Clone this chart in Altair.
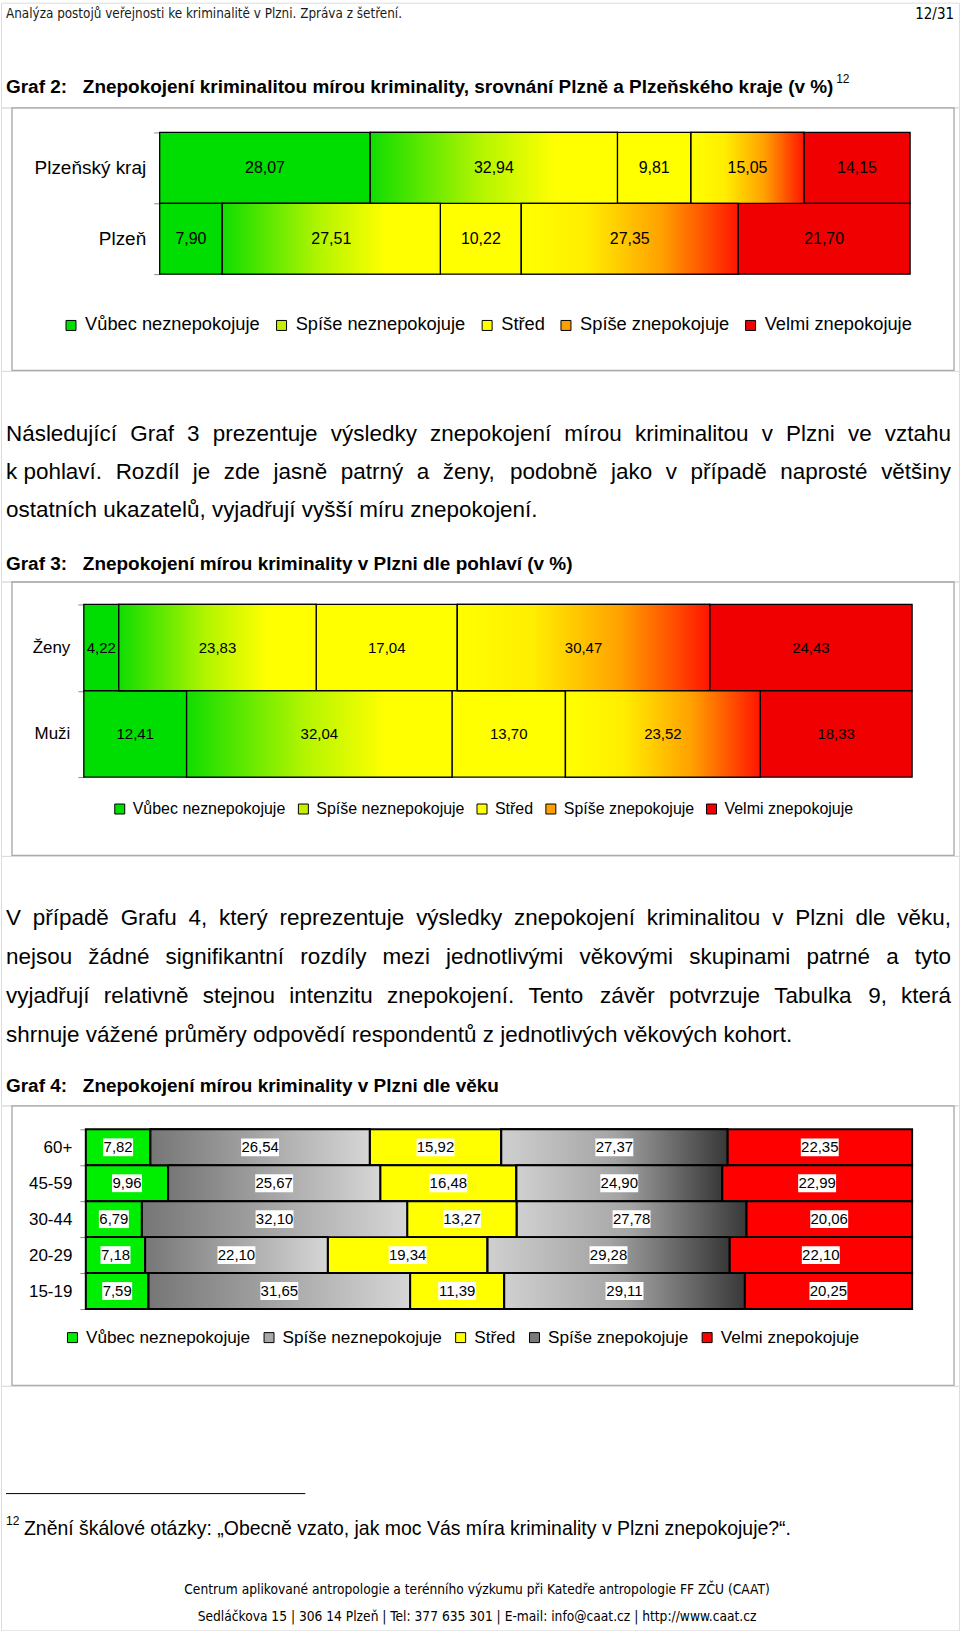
import unicodedata
import altair as alt
import pandas as pd

ARIAL = "Liberation Sans, Arial, sans-serif"
NARROW = "Liberation Sans Narrow, Arial Narrow, DejaVu Sans Condensed, sans-serif"

# ---------------- data ----------------
CATS = ["Vůbec neznepokojuje", "Spíše neznepokojuje", "Střed",
        "Spíše znepokojuje", "Velmi znepokojuje"]

G2_ROWS = ["Plzeňský kraj", "Plzeň"]
G2_KRAJ = [28.07, 32.94, 9.81, 15.05, 14.15]
G2_PLZEN = [7.90, 27.51, 10.22, 27.35, 21.70]

G3_ROWS = ["Ženy", "Muži"]
G3_ZENY = [4.22, 23.83, 17.04, 30.47, 24.43]
G3_MUZI = [12.41, 32.04, 13.70, 23.52, 18.33]

G4_ROWS = ["60+", "45-59", "30-44", "20-29", "15-19"]
G4_60 = [7.82, 26.54, 15.92, 27.37, 22.35]
G4_45 = [9.96, 25.67, 16.48, 24.90, 22.99]
G4_30 = [6.79, 32.10, 13.27, 27.78, 20.06]
G4_20 = [7.18, 22.10, 19.34, 29.28, 22.10]
G4_15 = [7.59, 31.65, 11.39, 29.11, 20.25]

HEADER = "Analýza postojů veřejnosti ke kriminalitě v Plzni. Zpráva z šetření."
PAGE_NO = "12/31"
TITLE2 = ["Graf 2:", "Znepokojení kriminalitou mírou kriminality, srovnání Plzně a Plzeňského kraje (v %)"]
TITLE3 = ["Graf 3:", "Znepokojení mírou kriminality v Plzni dle pohlaví (v %)"]
TITLE4 = ["Graf 4:", "Znepokojení mírou kriminality v Plzni dle věku"]
FOOTNOTE_MARK = "12"
PARA1 = ["Následující Graf 3 prezentuje výsledky znepokojení mírou kriminalitou v Plzni ve vztahu",
         "k\u00a0pohlaví. Rozdíl je zde jasně patrný a ženy, podobně jako v případě naprosté většiny",
         "ostatních ukazatelů, vyjadřují vyšší míru znepokojení."]
PARA2 = ["V případě Grafu 4, který reprezentuje výsledky znepokojení kriminalitou v Plzni dle věku,",
         "nejsou žádné signifikantní rozdíly mezi jednotlivými věkovými skupinami patrné a tyto",
         "vyjadřují relativně stejnou intenzitu znepokojení. Tento závěr potvrzuje Tabulka 9, která",
         "shrnuje vážené průměry odpovědí respondentů z jednotlivých věkových kohort."]
FOOTNOTE = "Znění škálové otázky: „Obecně vzato, jak moc Vás míra kriminality v Plzni znepokojuje?“."
FOOTER1 = "Centrum aplikované antropologie a terénního výzkumu při Katedře antropologie FF ZČU (CAAT)"
FOOTER2 = "Sedláčkova 15 | 306 14 Plzeň | Tel: 377 635 301 | E-mail: info@caat.cz | http://www.caat.cz"

# ---------------- text metrics (Arial-compatible) ----------------
REG = {}
for ch, w in zip("abcdefghijklmnopqrstuvwxyz",
                 [556, 556, 500, 556, 556, 278, 556, 556, 222, 222, 500, 222, 833,
                  556, 556, 556, 556, 333, 500, 278, 556, 500, 722, 500, 500, 500]):
    REG[ch] = w
for ch, w in zip("ABCDEFGHIJKLMNOPQRSTUVWXYZ",
                 [667, 667, 722, 722, 667, 611, 778, 722, 278, 500, 667, 556, 833,
                  722, 778, 667, 778, 722, 667, 611, 722, 667, 944, 667, 667, 611]):
    REG[ch] = w
for ch in "0123456789":
    REG[ch] = 556
REG.update({" ": 278, "\u00a0": 278, ",": 278, ".": 278, ":": 278, "-": 333, "(": 333,
            ")": 333, "%": 889, "?": 556, "„": 333, "“": 333, "+": 584, "/": 278,
            "|": 260, "@": 1015, "í": 278})
BOLD = dict(REG)
for ch, w in zip("abcdefghijklmnopqrstuvwxyz",
                 [556, 611, 556, 611, 556, 333, 611, 611, 278, 278, 556, 278, 889,
                  611, 611, 611, 611, 389, 556, 333, 611, 556, 778, 556, 556, 500]):
    BOLD[ch] = w
for ch, w in zip("ABCDEFGHIJKLMNOPQRSTUVWXYZ",
                 [722, 722, 722, 722, 667, 611, 778, 722, 278, 556, 722, 611, 833,
                  722, 778, 667, 778, 722, 667, 611, 722, 667, 944, 667, 667, 611]):
    BOLD[ch] = w
BOLD.update({":": 333, "í": 278})


def text_w(s, size, table=REG):
    tot = 0
    for c in s:
        if c in table:
            tot += table[c]
        else:
            b = unicodedata.normalize("NFD", c)[0]
            tot += table.get(b, 556)
    return tot * size / 1000.0


def justify(lines, n_just, x0, x1, y0, lh, size):
    recs = []
    for i, line in enumerate(lines):
        words = line.split(" ")
        widths = [text_w(w, size) for w in words]
        if i < n_just and len(words) > 1:
            gap = max((x1 - x0 - sum(widths)) / (len(words) - 1), 0.12 * size)
        else:
            gap = text_w(" ", size)
        x = x0
        for w, wd in zip(words, widths):
            recs.append({"w": w, "px": x, "py": y0 + i * lh})
            x += wd + gap
    return pd.DataFrame(recs)


ONE = alt.Data(values=[{"z": 0}])


def txt(s, x, y, size, font=ARIAL, weight="normal", align="left", color="black"):
    return alt.Chart(ONE).mark_text(
        text=s, font=font, fontSize=size, fontWeight=weight, align=align,
        baseline="middle", color=color
    ).encode(x=alt.value(x), y=alt.value(y))


def para(lines, n_just, y0, lh=38, size=22.5):
    df = justify(lines, n_just, 5, 952, y0, lh, size)
    return alt.Chart(df).mark_text(
        align="left", baseline="middle", font=ARIAL, fontSize=size, color="black"
    ).encode(
        x=alt.X("px:Q", scale=None, axis=None),
        y=alt.Y("py:Q", scale=None, axis=None),
        text="w:N",
    )


def title(parts, y, sup=False):
    layers = [txt(parts[0], 5, y, 19, weight="bold"),
              txt(parts[1], 82, y, 19, weight="bold")]
    if sup:
        xs = 82 + text_w(parts[1], 19, BOLD) + 1
        layers.append(txt(FOOTNOTE_MARK, xs, y - 8, 12))
    return layers


def long_df(rows, series):
    recs = []
    for r, vals in zip(rows, series):
        for k, (c, v) in enumerate(zip(CATS, vals)):
            recs.append({"row": r, "cat": c, "k": k, "v": v})
    return pd.DataFrame(recs)


def grad(stops):
    return alt.LinearGradient(
        gradient="linear", x1=0, x2=1, y1=0, y2=0,
        stops=[alt.GradientStop(offset=o, color=c) for o, c in stops])


def bar_panel(df, rows, H, xr, yr, colors, g_lo, g_hi, leg, axis_font, lab_font,
              stroke_w=1.3, boxes=False):
    base = alt.Chart(df).transform_stack(
        stack="v", groupby=["row"], as_=["x0", "x1"], offset="normalize",
        sort=[alt.SortField("k", order="ascending")]
    ).transform_calculate(
        xm="(datum.x0 + datum.x1) / 2",
        lab="replace(format(datum.v, '.2f'), '.', ',')",
    )
    xs = alt.Scale(domain=[0, 1], range=xr, nice=False, zero=False)
    ys = alt.Scale(domain=rows, range=yr, paddingInner=0, paddingOuter=0)
    yax = alt.Axis(title=None, orient="left", offset=-xr[0], domainColor="#8c8c8c",
                   tickColor="#8c8c8c", tickSize=6, tickBand="extent",
                   labelFontSize=axis_font, labelFont=ARIAL, labelColor="black",
                   labelPadding=8, grid=False, labelLimit=400)
    Y = alt.Y("row:N", sort=rows, scale=ys, axis=yax)
    X = alt.X("x0:Q", scale=xs, axis=None)

    frame = alt.Chart(ONE).mark_rect(fillOpacity=0, stroke="#a6a6a6", strokeWidth=1.3).encode(
        x=alt.value(11), x2=alt.value(955), y=alt.value(0.5), y2=alt.value(H - 0.5))

    bars = base.mark_bar(stroke="black", strokeWidth=stroke_w).encode(
        x=X, x2="x1:Q", y=Y,
        color=alt.Color("cat:N", scale=alt.Scale(domain=CATS, range=colors), legend=leg),
    )
    lo = base.transform_filter(alt.datum.k == 1).mark_bar(
        fill=g_lo, stroke="black", strokeWidth=stroke_w).encode(x=X, x2="x1:Q", y=Y)
    hi = base.transform_filter(alt.datum.k == 3).mark_bar(
        fill=g_hi, stroke="black", strokeWidth=stroke_w).encode(x=X, x2="x1:Q", y=Y)
    layers = [frame, bars, lo, hi]
    if boxes:
        p5 = "M-1,-0.47L1,-0.47L1,0.47L-1,0.47Z"
        p4 = "M-0.79,-0.47L0.79,-0.47L0.79,0.47L-0.79,0.47Z"
        layers.append(base.mark_point(filled=True, fill="white", size=1444, opacity=1,
                                      strokeWidth=0).encode(
            x=alt.X("xm:Q", scale=xs, axis=None), y=Y,
            shape=alt.condition("datum.v < 10", alt.value(p4), alt.value(p5))))
    layers.append(base.mark_text(font=ARIAL, fontSize=lab_font, color="black",
                                 baseline="middle").encode(
        x=alt.X("xm:Q", scale=xs, axis=None), y=Y, text="lab:N"))
    return alt.layer(*layers).properties(width=960, height=H)


def legend(x, y, size, pad):
    return alt.Legend(orient="none", legendX=x, legendY=y, direction="horizontal",
                      columns=5, title=None, symbolType="square", symbolSize=100,
                      symbolStrokeColor="black", symbolStrokeWidth=1,
                      labelFontSize=size, labelFont=ARIAL, labelColor="black",
                      labelLimit=400, columnPadding=pad, labelOffset=5)


COL_23 = ["#00dd00", "#c4f000", "#ffff00", "#ffa000", "#f00000"]
GLO_23 = grad([(0, "#10dd00"), (0.45, "#b4f500"), (0.75, "#ffff00"), (1, "#ffff00")])
GHI_23 = grad([(0, "#ffff00"), (0.3, "#ffee00"), (0.65, "#ffa000"), (1, "#ff1500")])
COL_4 = ["#00ee00", "#a8a8a8", "#ffff00", "#7a7a7a", "#ff0000"]
GLO_4 = grad([(0, "#767676"), (1, "#d6d6d6")])
GHI_4 = grad([(0, "#d0d0d0"), (0.5, "#a4a4a4"), (1, "#383838")])

# ---------------- page sections ----------------
H1, H2, H3, H4, H5, H6, H7 = 105, 264, 211, 275, 250, 281, 245

sec1 = alt.layer(
    txt(HEADER, 5, 11, 13.4, font=NARROW, color="#1a1a1a"),
    txt(PAGE_NO, 955, 11, 15, font=NARROW, align="right"),
    *title(TITLE2, 84, sup=True),
).properties(width=960, height=H1)

sec2 = bar_panel(long_df(G2_ROWS, [G2_KRAJ, G2_PLZEN]), G2_ROWS, H2, [159, 911], [25, 167],
                 COL_23, GLO_23, GHI_23, legend(61, 209, 18.3, 12), 19, 16)

sec3 = alt.layer(
    para(PARA1, 2, 63),
    *title(TITLE3, 193),
).properties(width=960, height=H3)

sec4 = bar_panel(long_df(G3_ROWS, [G3_ZENY, G3_MUZI]), G3_ROWS, H4, [83, 913], [23, 196],
                 COL_23, GLO_23, GHI_23, legend(111, 220, 16, 9), 17, 15)

sec5 = alt.layer(
    para(PARA2, 3, 62, lh=39),
    *title(TITLE4, 231),
).properties(width=960, height=H5)

sec6 = bar_panel(long_df(G4_ROWS, [G4_60, G4_45, G4_30, G4_20, G4_15]), G4_ROWS, H6,
                 [85, 913], [24, 204], COL_4, GLO_4, GHI_4, legend(63, 224, 17.2, 10), 17, 15,
                 stroke_w=2, boxes=True)

sec7 = alt.layer(
    alt.Chart(ONE).mark_rule(color="black", strokeWidth=1).encode(
        x=alt.value(5), x2=alt.value(305), y=alt.value(108)),
    txt(FOOTNOTE_MARK, 5, 135, 12),
    txt(FOOTNOTE, 23, 143, 19.5),
    txt(FOOTER1, 477, 205, 13.7, font=NARROW, align="center"),
    txt(FOOTER2, 477, 232, 13.7, font=NARROW, align="center"),
).properties(width=960, height=H7)

chart = alt.vconcat(
    sec1, sec2, sec3, sec4, sec5, sec6, sec7, spacing=0, bounds="flush"
).resolve_scale(color="independent").resolve_legend(color="independent").properties(
    padding=0
).configure_view(stroke="transparent").configure(font=ARIAL, background="white")

chart.save("out.html", embed_options={"renderer": "svg", "actions": False})
